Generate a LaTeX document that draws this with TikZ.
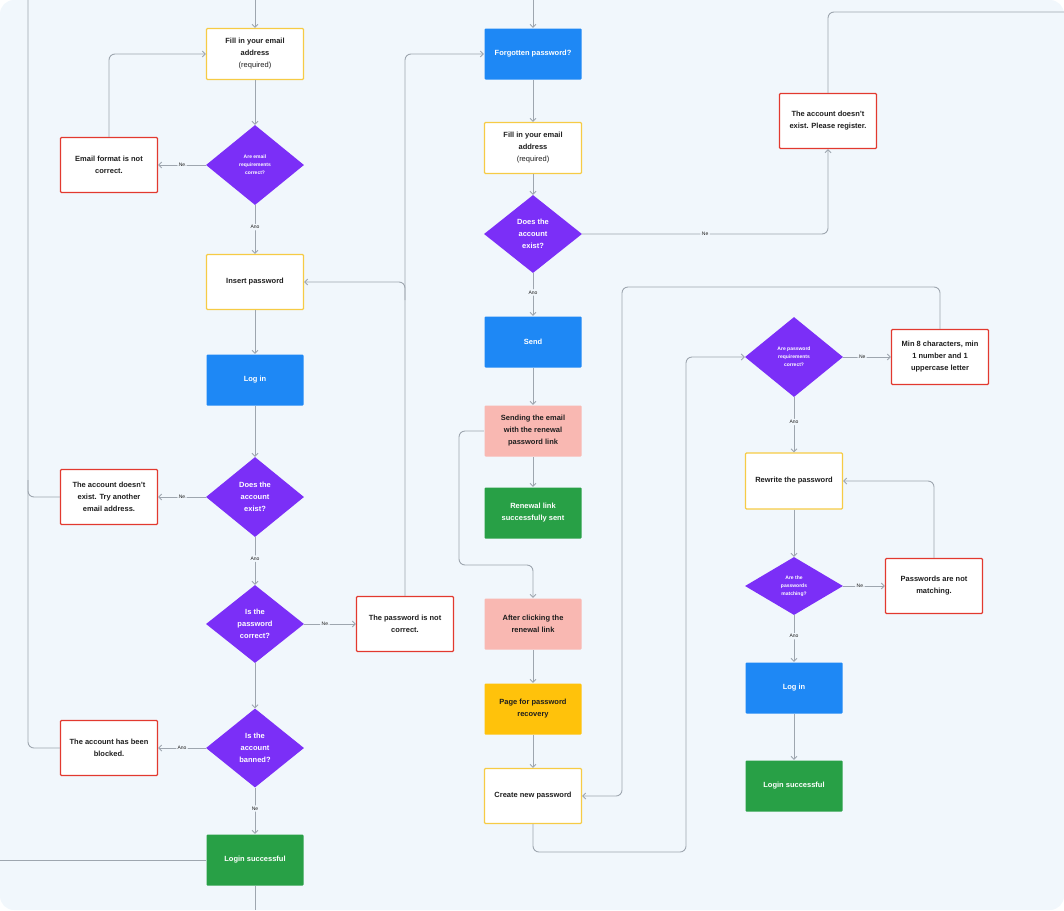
\documentclass[tikz,border=0pt]{standalone}
\usepackage{fontspec}
\setmainfont{Liberation Sans}
\usetikzlibrary{shapes.geometric,arrows.meta}
\definecolor{bg}{HTML}{F1F7FC}
\definecolor{ln}{HTML}{9EA6AF}
\definecolor{pur}{HTML}{7B2FF7}
\definecolor{blu}{HTML}{1E88F5}
\definecolor{grn}{HTML}{28A046}
\definecolor{rd}{HTML}{E2392F}
\definecolor{yl}{HTML}{F6CB45}
\definecolor{pnk}{HTML}{F9B8B2}
\definecolor{ylf}{HTML}{FFC20B}
\definecolor{txt}{HTML}{1E1E1E}
\begin{document}
\begin{tikzpicture}[x=1pt,y=-1pt,
  box/.style={draw,line width=1.2pt,rounded corners=1pt,minimum width=97pt,minimum height=51pt,align=center,font=\fontsize{7.5}{12}\selectfont\bfseries,text=txt,fill=white},
  yb/.style={box,draw=yl},
  rb/.style={box,draw=rd,minimum height=55pt},
  bb/.style={box,draw=none,fill=blu,text=white},
  gb/.style={box,draw=none,fill=grn,text=white},
  pb/.style={box,draw=none,fill=pnk},
  fb/.style={box,draw=none,fill=ylf},
  dia/.style={diamond,fill=pur,text=white,align=center,inner sep=0pt,minimum width=98pt,minimum height=80pt,font=\fontsize{7.5}{12}\selectfont\bfseries},
  sdia/.style={dia,font=\fontsize{5}{8}\selectfont\bfseries},
  c/.style={draw=ln,line width=0.9pt,rounded corners=6pt},
  a/.style={c,-{Straight Barb[length=3pt,width=6pt]}},
  lb/.style={fill=bg,font=\fontsize{5}{6}\selectfont,text=txt,inner sep=1.5pt}]
\useasboundingbox (0,0) rectangle (1064,910);
\fill[bg,rounded corners=14pt] (0,0) rectangle (1064,910);
% column A
\node[yb] (fill1) at (255,54) {Fill in your email\\address\\\mdseries(required)};
\node[sdia] (d1) at (255,165) {Are email\\requirements\\correct?};
\node[rb] (efmt) at (109,165) {Email format is not\\correct.};
\node[yb,minimum height=55pt] (ins) at (255,282) {Insert password};
\node[bb] (log) at (255,380) {Log in};
\node[dia] (d2) at (255,497) {Does the\\account\\exist?};
\node[rb] (nex) at (109,497) {The account doesn’t\\exist. Try another\\email address.};
\node[dia,minimum height=78pt] (d3) at (255,624) {Is the\\password\\correct?};
\node[rb] (pwn) at (405,624) {The password is not\\correct.};
\node[dia,minimum height=79pt] (d4) at (255,748) {Is the\\account\\banned?};
\node[rb] (blk) at (109,748) {The account has been\\blocked.};
\node[gb] (lok) at (255,860) {Login successful};
\coordinate (t1) at (255,0);
\coordinate (b1) at (255,910);
\coordinate (lt) at (28,0);
\coordinate (le) at (0,860);
\draw[a] (t1) -- (fill1);
\draw[a] (fill1) -- (d1);
\draw[a] (d1) -- node[lb]{Ne} (efmt);
\draw[a] (efmt.north) |- (fill1.west);
\draw[a] (d1) -- node[lb,pos=0.45]{Ano} (ins);
\draw[a] (ins) -- (log);
\draw[a] (log) -- (d2);
\draw[a] (d2) -- node[lb]{Ne} (nex);
\draw[a] (d2) -- node[lb,pos=0.45]{Ano} (d3);
\draw[a] (d3) -- node[lb,pos=0.4]{Ne} (pwn);
\draw[a] (d3) -- (d4);
\draw[a] (d4) -- node[lb]{Ano} (blk);
\draw[a] (d4) -- node[lb,pos=0.45]{Ne} (lok);
\draw[c] (lok) -- (b1);
\draw[c] (lok.west) -- (le);
\draw[c] (lt) |- (blk.west);
\draw[c] (28,480) |- (nex.west);
% column B
\node[bb] (fgt) at (533,54) {Forgotten password?};
\node[yb] (fill2) at (533,148) {Fill in your email\\address\\\mdseries(required)};
\node[dia,minimum height=78pt] (d5) at (533,234) {Does the\\account\\exist?};
\node[rb] (nex2) at (828,121) {The account doesn’t\\exist. Please register.};
\node[bb] (snd) at (533,342) {Send};
\node[pb] (sdg) at (533,431) {Sending the email\\with the renewal\\password link};
\node[gb] (rok) at (533,513) {Renewal link\\successfully sent};
\node[pb] (aft) at (533,624) {After clicking the\\renewal link};
\node[fb] (pg) at (533,709) {Page for password\\recovery};
\node[yb,minimum height=55pt] (cr) at (533,796) {Create new password};
\coordinate (t2) at (533,0);
\coordinate (tr) at (1064,12);
\draw[a] (t2) -- (fgt);
\draw[a] (pwn.north) |- (fgt.west);
\draw[a] (405,300) |- (ins.east);
\draw[a] (fgt) -- (fill2);
\draw[a] (fill2) -- (d5);
\draw[a] (d5.east) -- node[lb,pos=0.5]{Ne} (828,234) -- (nex2.south);
\draw[c] (nex2.north) |- (tr);
\draw[a] (d5) -- node[lb,pos=0.45]{Ano} (snd);
\draw[a] (snd) -- (sdg);
\draw[a] (sdg) -- (rok);
\draw[a] (sdg.west) -| (459,565) -| (aft.north);
\draw[a] (aft) -- (pg);
\draw[a] (pg) -- (cr);
% column C
\node[sdia] (d6) at (794,357) {Are password\\requirements\\correct?};
\node[rb] (m8) at (940,357) {Min 8 characters, min\\1 number and 1\\uppercase letter};
\node[yb,minimum height=56pt] (rw) at (794,481) {Rewrite the password};
\node[sdia,minimum height=58pt] (d7) at (794,586) {Are the\\passwords\\matching?};
\node[rb] (pm) at (934,586) {Passwords are not\\matching.};
\node[bb] (log2) at (794,688) {Log in};
\node[gb] (lok2) at (794,786) {Login successful};
\draw[a] (m8.north) |- (622,287) |- (cr.east);
\draw[a] (cr.south) |- (686,852) |- (d6.west);
\draw[a] (d6) -- node[lb,pos=0.4]{Ne} (m8);
\draw[a] (d6) -- node[lb,pos=0.45]{Ano} (rw);
\draw[a] (rw) -- (d7);
\draw[a] (d7) -- node[lb,pos=0.4]{Ne} (pm);
\draw[a] (pm.north) |- (rw.east);
\draw[a] (d7) -- node[lb,pos=0.45]{Ano} (log2);
\draw[a] (log2) -- (lok2);
\end{tikzpicture}
\end{document}
